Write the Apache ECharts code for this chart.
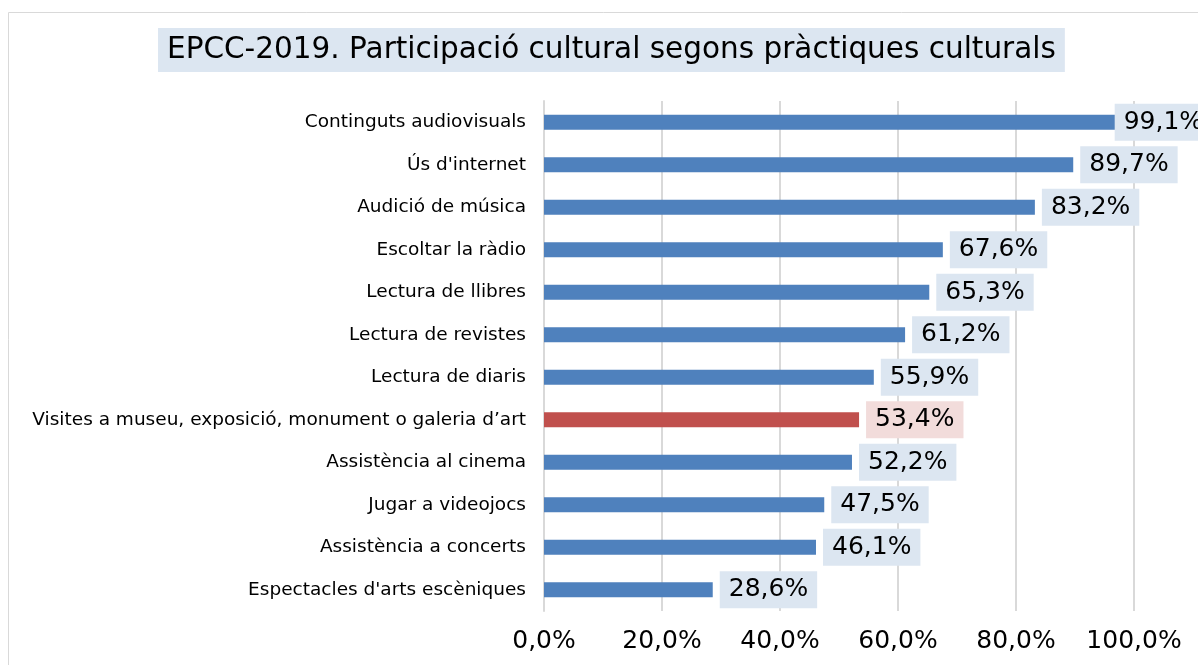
<!DOCTYPE html>
<html>
<head>
<meta charset="utf-8">
<script src="https://cdn.jsdelivr.net/npm/echarts@6/dist/echarts.min.js"></script>
<style>
  html, body { margin: 0; padding: 0; background: #fff; }
  #chart { width: 1198px; height: 665px; }
</style>
</head>
<body>
<div id="chart"></div>
<script>
// categories from top to bottom
const categories = [
  'Continguts audiovisuals',
  'Ús d\'internet',
  'Audició de música',
  'Escoltar la ràdio',
  'Lectura de llibres',
  'Lectura de revistes',
  'Lectura de diaris',
  'Visites a museu, exposició, monument o galeria d’art',
  'Assistència al cinema',
  'Jugar a videojocs',
  'Assistència a concerts',
  'Espectacles d\'arts escèniques'
]
const values = [99.1, 89.7, 83.2, 67.6, 65.3, 61.2, 55.9, 53.4, 52.2, 47.5, 46.1, 28.6]
const highlighted = 'Visites a museu, exposició, monument o galeria d’art'
const xTicks = [0, 20, 40, 60, 80, 100]

const font = 'DejaVu Sans, Verdana, sans-serif'

function pct(v) {
  return v.toFixed(1).replace('.', ',') + '%'
}

const seriesData = values.map(function (v, i) {
  let isRed = categories[i] === highlighted
  let item = {
    value: v,
    itemStyle: {color: isRed ? '#c0504d' : '#4f81bd'},
    label: {backgroundColor: isRed ? '#f2dcdb' : '#dce6f1'}
  }
  // last label does not fit, Excel pulls it back over the bar
  if (v > 95) {
    item.label.offset = [-21, 0]
  }
  return item
})

let myChart = echarts.init(document.getElementById('chart'))
myChart.setOption({
  animation: false,
  textStyle: {fontFamily: font},
  graphic: [{
    type: 'rect',
    shape: {x: 8.5, y: 12.5, width: 1200, height: 670},
    style: {fill: 'none', stroke: '#d9d9d9', lineWidth: 1},
    z: -10
  }],
  title: {
    text: 'EPCC-2019. Participació cultural segons pràctiques culturals',
    left: 158,
    top: 28,
    backgroundColor: '#dce6f1',
    padding: [7, 9, 7, 9],
    textStyle: {fontFamily: font, fontSize: 29.5, fontWeight: 'normal', color: '#000'}
  },
  grid: {left: 544, right: 64, top: 101, bottom: 54, containLabel: false},
  xAxis: {
    type: 'value',
    min: xTicks[0],
    max: xTicks[xTicks.length - 1],
    interval: xTicks[1] - xTicks[0],
    axisLine: {show: false},
    axisTick: {show: false},
    splitLine: {lineStyle: {color: '#d9d9d9', width: 2}},
    axisLabel: {
      margin: 18,
      fontSize: 25,
      color: '#000',
      fontFamily: font,
      formatter: function (v) { return pct(v) }
    }
  },
  yAxis: {
    type: 'category',
    inverse: true,
    data: categories,
    axisLine: {lineStyle: {color: '#d9d9d9', width: 2}},
    axisTick: {show: false},
    axisLabel: {margin: 18, fontSize: 18.5, color: '#000', fontFamily: font}
  },
  series: [{
    type: 'bar',
    data: seriesData,
    barWidth: 15,
    label: {
      show: true,
      position: 'right',
      distance: 7,
      padding: [6, 9, 6, 9],
      fontSize: 25,
      color: '#000',
      fontFamily: font,
      formatter: function (p) { return pct(p.value) }
    }
  }]
})
</script>
</body>
</html>
